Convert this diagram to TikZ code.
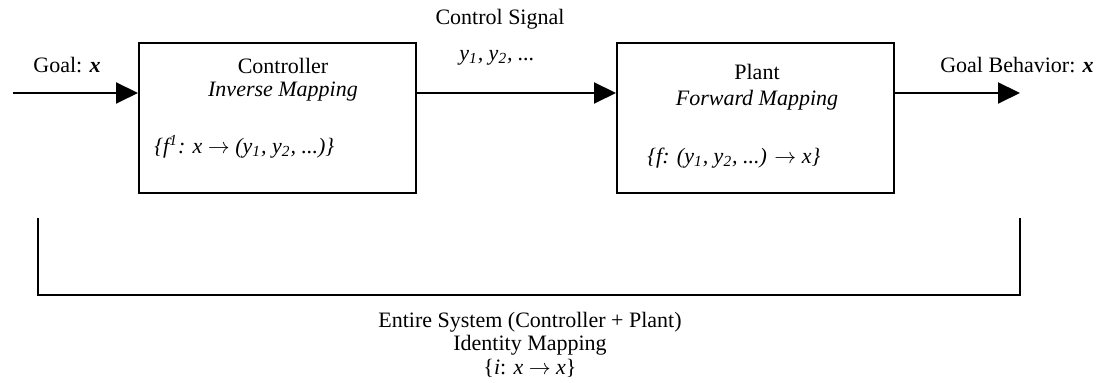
\documentclass[tikz,border=0pt]{standalone}
\usepackage{fontspec}
\setmainfont{Liberation Serif}
\usetikzlibrary{arrows.meta}
\tikzset{
  box/.style={draw, line width=1pt, minimum width=138.5pt, minimum height=75pt, inner sep=0pt},
  lbl/.style={inner sep=0pt, font=\fontsize{11}{13.2}\selectfont},
  flow/.style={line width=1pt, -{Triangle[length=11pt,width=10.5pt]}},
  brk/.style={line width=1pt}
}
\begin{document}
\begin{tikzpicture}[x=0.5pt,y=-0.5pt]
\useasboundingbox (0,0) rectangle (1098,383);
% boxes
\node[box] (ctrl) at (277.5,118) {};
\node[box] (plant) at (755.5,118) {};
% texts
\node[lbl] (goal) at (67,65) {Goal: \textbf{\textit{x}}};
\node[lbl] (ctrlname) at (283,66) {Controller};
\node[lbl] (ctrlmap) at (283,92) {\textit{Inverse Mapping}};
\node[lbl, anchor=west] (ctrlf) at (154,147) {\textit{\{f\textsuperscript{1}: x $\rightarrow$ (y\textsubscript{1}, y\textsubscript{2}, ...)\}}};
\node[lbl] (cs) at (500,19) {Control Signal};
\node[lbl] (ys) at (497,58) {\textit{y\textsubscript{1}, y\textsubscript{2}, ...}};
\node[lbl] (plantname) at (757,72) {Plant};
\node[lbl] (plantmap) at (757,100) {\textit{Forward Mapping}};
\node[lbl, anchor=west] (plantf) at (647,158) {\textit{\{f: (y\textsubscript{1}, y\textsubscript{2}, ...) $\rightarrow$ x\}}};
\node[lbl] (gb) at (1017,65) {Goal Behavior: \textbf{\textit{x}}};
\node[lbl] (es) at (530,322) {Entire System (Controller + Plant)};
\node[lbl] (im) at (530,345) {Identity Mapping};
\node[lbl] (ix) at (530,368) {\{\textit{i}: \textit{x} $\rightarrow$ \textit{x}\}};
% connectors
\coordinate (in) at (13,93);
\coordinate (out) at (1020,93);
\draw[flow] (in) -- (in -| ctrl.west);
\draw[flow] (in -| ctrl.east) -- (in -| plant.west);
\draw[flow] (in -| plant.east) -- (out);
% bracket
\coordinate (bl) at (38,218);
\coordinate (br) at (1020,218);
\draw[brk] (bl) -- (38,295) -- (1020,295) -- (br);
\end{tikzpicture}
\end{document}
